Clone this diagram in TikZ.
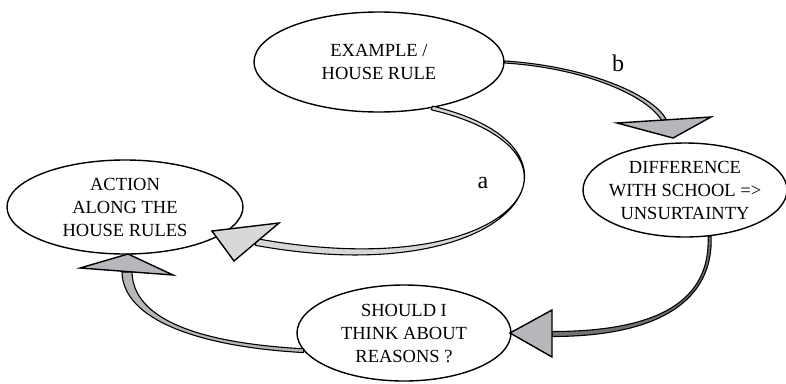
\documentclass[tikz,border=0pt]{standalone}
\usepackage{fontspec}
\setmainfont{Liberation Serif}
\usetikzlibrary{calc,shapes.geometric}

\definecolor{lightfill}{HTML}{D8D8DA}
\definecolor{midfill}{HTML}{B7B7BB}

% Tapered band along a cubic curve: #1..#4 are the curve's points,
% #5 and #6 the half widths at start and end, #7 the fill colour.
\newcommand{\taperband}[7]{%
  \path[band, fill=#7]
    ($(#1)!#5!90:(#2)$) .. controls ($(#2)!#5!-90:(#1)$) and ($(#3)!#6!90:(#4)$) .. ($(#4)!#6!-90:(#3)$)
    -- ($(#4)!#6!90:(#3)$) .. controls ($(#3)!#6!-90:(#4)$) and ($(#2)!#5!90:(#1)$) .. ($(#1)!#5!-90:(#2)$)
    -- cycle;}

\tikzset{
  bubble/.style={ellipse, draw, line width=1.4pt, fill=white, inner xsep=-15pt, inner ysep=0pt,
    align=center, font=\fontsize{18.5}{23}\selectfont},
  band/.style={draw=black, line width=1.1pt, line join=round},
  head/.style={draw=black, line width=1.4pt, line join=miter},
  lbl/.style={font=\fontsize{24}{24}\selectfont, inner sep=0pt}
}

\begin{document}
\begin{tikzpicture}[x=1pt,y=-1pt]
\useasboundingbox (0,0) rectangle (786,383);

% the four states of the cycle
\node[bubble, minimum width=250pt, minimum height=100pt] (ex)  at (379,62)  {EXAMPLE /\\HOUSE RULE};
\node[bubble, minimum width=236pt, minimum height=94pt]  (act) at (125,207) {ACTION\\ALONG THE\\HOUSE RULES};
\node[bubble, minimum width=204pt, minimum height=94pt]  (dif) at (685,190) {DIFFERENCE\\WITH SCHOOL =>\\UNSURTAINTY};
\node[bubble, minimum width=214pt, minimum height=96pt]  (sh)  at (404,333) {SHOULD I\\THINK ABOUT\\REASONS ?};

% path labels
\node[lbl] (la) at (483,183) {a};
\node[lbl] (lb) at (618,63) {b};

% arrow a: example -> action
\coordinate (a0) at (ex.-41);
\coordinate (a1) at (610,150);
\coordinate (a2) at (520,290);
\coordinate (a3) at ($(act.center)+(131,35)$);
\coordinate (ta) at ($(act.center)+(87,24)$);
\coordinate (ba1) at ($(act.center)+(154,16)$);
\coordinate (ba2) at ($(act.center)+(109,54)$);
\taperband{a0}{a1}{a2}{a3}{1.9pt}{3.4pt}{lightfill}
\draw[head, fill=lightfill] (ta) -- (ba1) -- (ba2) -- cycle;

% arrow b: example -> difference
\coordinate (b0) at (ex.east);
\coordinate (b1) at (585,67);
\coordinate (b2) at (650,95);
\coordinate (b3) at ($(dif.center)+(-21,-70)$);
\coordinate (tb) at ($(dif.center)+(-12,-52)$);
\coordinate (bb1) at ($(dif.center)+(-68,-67)$);
\coordinate (bb2) at ($(dif.center)+(26,-73)$);
\taperband{b0}{b1}{b2}{b3}{1.0pt}{2.2pt}{midfill}
\draw[head, fill=midfill] (tb) -- (bb1) -- (bb2) -- cycle;

% arrow c: difference -> should I
\coordinate (c0) at (dif.-62);
\coordinate (c1) at (712,300);
\coordinate (c2) at (660,334);
\coordinate (c3) at ($(sh.center)+(148,1)$);
\coordinate (tc) at ($(sh.center)+(106,0)$);
\coordinate (bc1) at ($(sh.center)+(148,-23)$);
\coordinate (bc2) at ($(sh.center)+(148,24)$);
\taperband{c0}{c1}{c2}{c3}{1.5pt}{2.5pt}{black!55}
\draw[head, fill=midfill] (tc) -- (bc1) -- (bc2) -- cycle;

% arrow d: should I -> action
\coordinate (d0) at (sh.190);
\coordinate (d1) at (200,345);
\coordinate (d2) at (128,320);
\coordinate (d3) at ($(act.center)+(2,65)$);
\coordinate (td) at ($(act.center)+(3,47)$);
\coordinate (bd1) at ($(act.center)+(-45,61)$);
\coordinate (bd2) at ($(act.center)+(48,68)$);
\taperband{d0}{d1}{d2}{d3}{1.9pt}{5pt}{midfill}
\draw[head, fill=midfill] (td) -- (bd1) -- (bd2) -- cycle;
\end{tikzpicture}
\end{document}
